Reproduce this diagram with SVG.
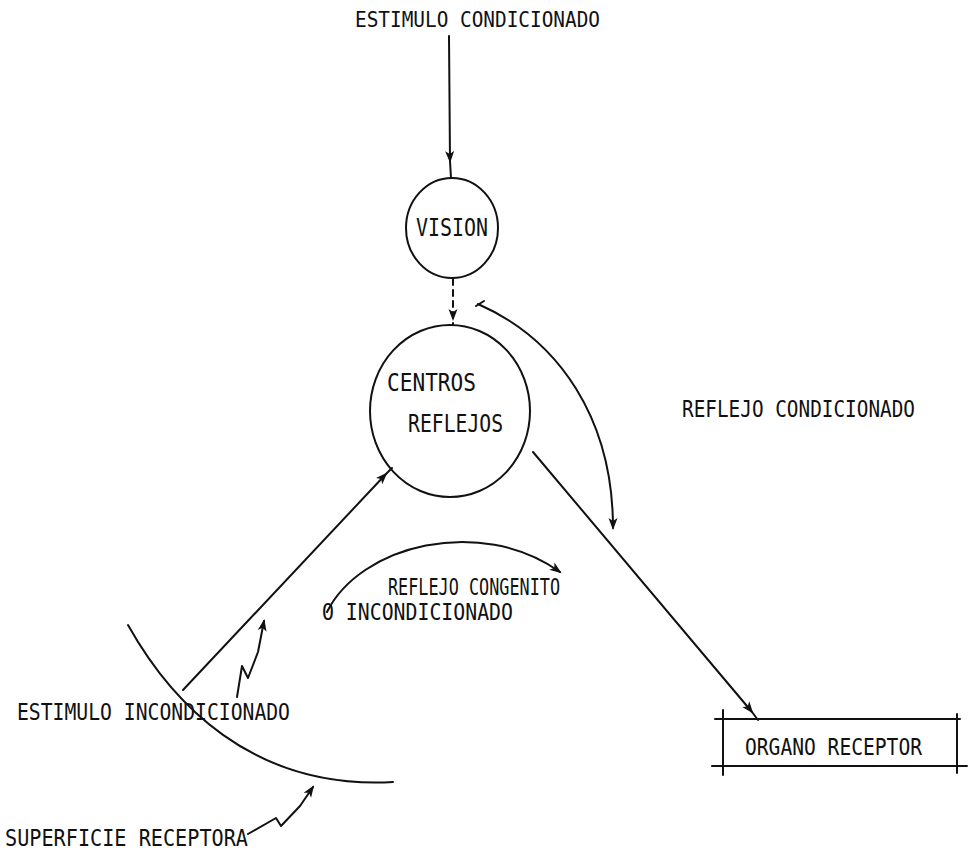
<svg xmlns="http://www.w3.org/2000/svg" width="973" height="855" viewBox="0 0 973 855">
<style>
  .t { font-family: "DejaVu Sans Mono", "Liberation Mono", monospace; fill: #111; }
  .s { fill: none; stroke: #111; stroke-width: 2; stroke-linecap: round; stroke-linejoin: round; }
</style>
<defs>
  <marker id="ah" markerUnits="userSpaceOnUse" markerWidth="14" markerHeight="10" refX="10" refY="5" orient="auto" viewBox="0 0 14 10">
    <path d="M0,0.5 L12,5 L0,9.5 L3,5 z" fill="#111"/>
  </marker>
</defs>
<rect width="973" height="855" fill="#fff"/>

<g id="estimulo-condicionado">
  <text class="t" x="355" y="27" font-size="22" textLength="245" lengthAdjust="spacingAndGlyphs">ESTIMULO CONDICIONADO</text>
</g>

<g id="vision">
  <ellipse class="s" cx="452" cy="228" rx="46" ry="50"/>
  <text class="t" x="416" y="236" font-size="25" textLength="72" lengthAdjust="spacingAndGlyphs">VISION</text>
</g>

<g id="centros-reflejos">
  <ellipse class="s" cx="450" cy="411" rx="80" ry="86"/>
  <text class="t" x="387" y="391" font-size="24" textLength="89" lengthAdjust="spacingAndGlyphs">CENTROS</text>
  <text class="t" x="408" y="432" font-size="24" textLength="95" lengthAdjust="spacingAndGlyphs">REFLEJOS</text>
</g>

<g id="organo-receptor">
  <path class="s" d="M715,719 H960 M712,766 H967 M723,710 V775 M957,714 V773"/>
  <text class="t" x="745" y="755" font-size="23" textLength="177" lengthAdjust="spacingAndGlyphs">ORGANO RECEPTOR</text>
</g>

<g id="superficie-receptora">
  <path class="s" d="M128,625 C170,700 250,790 393,782"/>
  <text class="t" x="5" y="846" font-size="23" textLength="243" lengthAdjust="spacingAndGlyphs">SUPERFICIE RECEPTORA</text>
</g>

<g id="labels">
  <text class="t" x="682" y="417" font-size="23" textLength="233" lengthAdjust="spacingAndGlyphs">REFLEJO CONDICIONADO</text>
  <text class="t" x="388" y="595" font-size="23" textLength="172" lengthAdjust="spacingAndGlyphs">REFLEJO CONGENITO</text>
  <text class="t" x="322" y="620" font-size="23" textLength="191" lengthAdjust="spacingAndGlyphs">O INCONDICIONADO</text>
  <text class="t" x="17" y="720" font-size="23" textLength="273" lengthAdjust="spacingAndGlyphs">ESTIMULO INCONDICIONADO</text>
</g>

<g id="connectors">
  <path class="s" d="M449,36 L450,161 L451,178" marker-mid="url(#ah)"/>
  <path class="s" d="M453,279 L453,319 L453,325" stroke-dasharray="6,5" marker-mid="url(#ah)"/>
  <path class="s" d="M533,452 L752,712 L758,720" marker-mid="url(#ah)"/>
  <path class="s" d="M478,304 C560,340 613,420 613,528" marker-end="url(#ah)"/>
  <path class="s" d="M476,306 L484,301"/>
  <path class="s" d="M183,690 L386,474 L392,468" marker-mid="url(#ah)"/>
  <path class="s" d="M327,612 C360,545 480,515 560,572" marker-end="url(#ah)"/>
  <path class="s" d="M237,697 L242,666 L248,678 L258,652 L264,621" marker-end="url(#ah)"/>
  <path class="s" d="M248,834 L276,818 L281,826 L300,806 L313,787" marker-end="url(#ah)"/>
</g>
</svg>
